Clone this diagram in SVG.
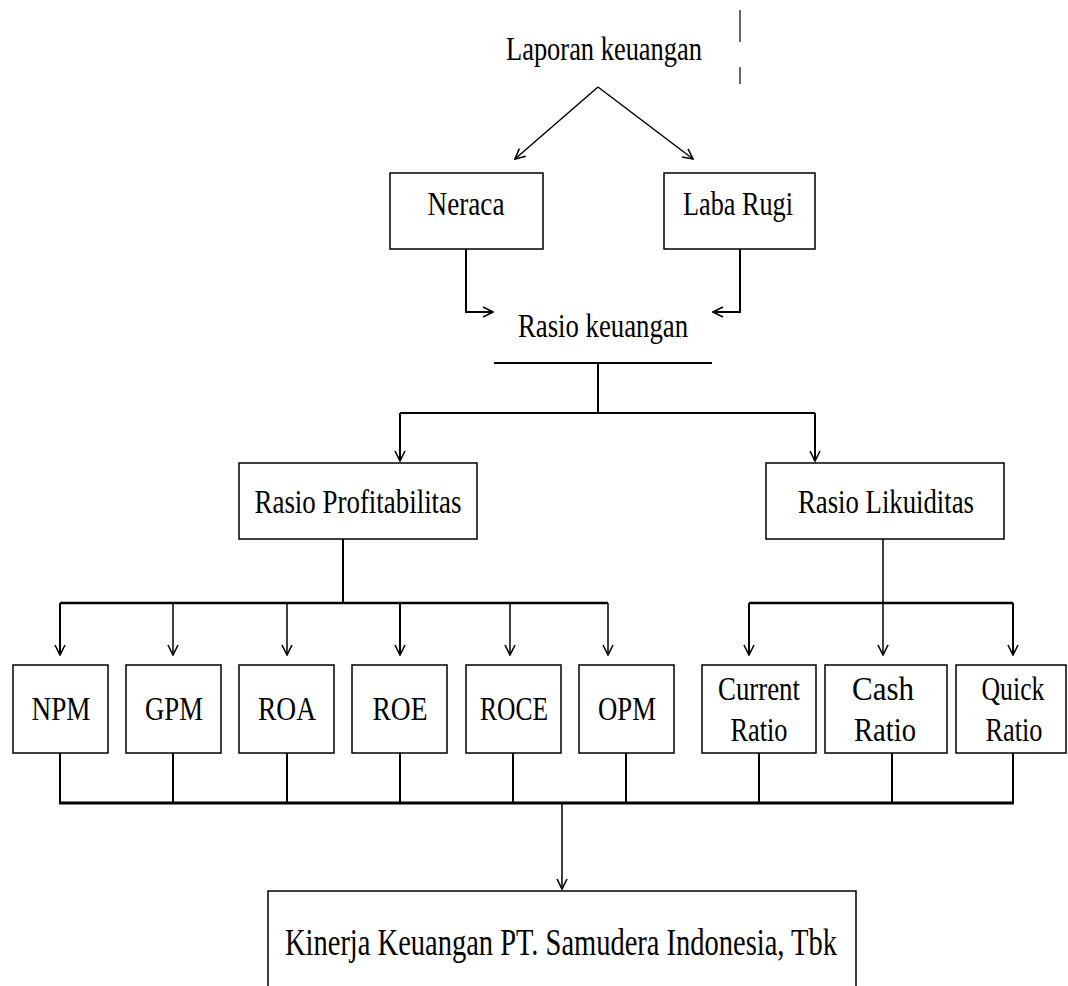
<svg xmlns="http://www.w3.org/2000/svg" width="1068" height="986" viewBox="0 0 1068 986">
<style>
.bg{fill:#fff}
.box{fill:#fff;stroke:#000;stroke-width:1.5}
.t{font-family:"Liberation Serif","Times New Roman",serif;font-size:34px;fill:#000;text-anchor:middle}
.c{fill:none;stroke:#000;stroke-width:2}
.ca{fill:none;stroke:#000;stroke-width:2;marker-end:url(#ah)}
.thin{fill:none;stroke:#000;stroke-width:1.2}
</style>
<defs>
<marker id="ah" viewBox="0 0 12 12" refX="11" refY="6" markerWidth="12" markerHeight="12" markerUnits="userSpaceOnUse" orient="auto">
<path d="M1,1 L11,6 L1,11" fill="none" stroke="#000" stroke-width="1.6"/>
</marker>
</defs>
<rect class="bg" x="0" y="0" width="1068" height="986"/>

<g id="connectors">
<path class="thin" d="M740,10 V42 M740,67 V84"/>
<line class="ca" x1="598" y1="87" x2="515" y2="159" style="stroke-width:1.5"/>
<line class="ca" x1="598" y1="87" x2="693" y2="159" style="stroke-width:1.5"/>
<path class="ca" d="M466,249 V312 H493"/>
<path class="ca" d="M740,249 V312 H713"/>
<line class="c" x1="494" y1="363" x2="712" y2="363"/>
<line class="c" x1="598" y1="363" x2="598" y2="413"/>
<line class="c" x1="400" y1="413" x2="815" y2="413"/>
<line class="ca" x1="400" y1="413" x2="400" y2="461"/>
<line class="ca" x1="815" y1="413" x2="815" y2="461"/>
<line class="c" x1="343" y1="539" x2="343" y2="603"/>
<line class="c" x1="60" y1="603" x2="608" y2="603" style="stroke-width:2.5"/>
<line class="ca" x1="60" y1="603" x2="60" y2="655"/>
<line class="ca" x1="173" y1="603" x2="173" y2="655" style="stroke-width:1.5"/>
<line class="ca" x1="287" y1="603" x2="287" y2="655" style="stroke-width:1.5"/>
<line class="ca" x1="400" y1="603" x2="400" y2="655"/>
<line class="ca" x1="510" y1="603" x2="510" y2="655" style="stroke-width:1.5"/>
<line class="ca" x1="608" y1="603" x2="608" y2="655" style="stroke-width:1.5"/>
<line class="ca" x1="883" y1="539" x2="883" y2="655" style="stroke-width:1.5"/>
<line class="c" x1="749" y1="603" x2="1013" y2="603" style="stroke-width:2.5"/>
<line class="ca" x1="749" y1="603" x2="749" y2="655"/>
<line class="ca" x1="1013" y1="603" x2="1013" y2="655"/>
<path class="c" d="M60,753 V803 M173,753 V803 M287,753 V803 M400,753 V803 M513,753 V803 M626,753 V803 M759,753 V803 M892,753 V803 M1013,753 V803"/>
<line class="c" x1="59" y1="803" x2="1014" y2="803" style="stroke-width:3"/>
<line class="ca" x1="562" y1="803" x2="562" y2="889" style="stroke-width:1.5"/>
</g>

<g id="laporan"><text class="t" x="604" y="60" textLength="196" lengthAdjust="spacingAndGlyphs">Laporan keuangan</text></g>
<g id="neraca"><rect class="box" x="390" y="173" width="153" height="76"/><text class="t" x="466" y="215" textLength="77" lengthAdjust="spacingAndGlyphs">Neraca</text></g>
<g id="labarugi"><rect class="box" x="664" y="173" width="151" height="76"/><text class="t" x="738" y="215" textLength="110" lengthAdjust="spacingAndGlyphs">Laba Rugi</text></g>
<g id="rasio"><text class="t" x="603" y="337" textLength="170" lengthAdjust="spacingAndGlyphs">Rasio keuangan</text></g>
<g id="profit"><rect class="box" x="239" y="463" width="238" height="76"/><text class="t" x="358" y="513" textLength="207" lengthAdjust="spacingAndGlyphs">Rasio Profitabilitas</text></g>
<g id="likuid"><rect class="box" x="766" y="463" width="238" height="76"/><text class="t" x="886" y="513" textLength="176" lengthAdjust="spacingAndGlyphs">Rasio Likuiditas</text></g>

<g id="npm"><rect class="box" x="13" y="665" width="95" height="88"/><text class="t" x="61" y="720" textLength="59" lengthAdjust="spacingAndGlyphs">NPM</text></g>
<g id="gpm"><rect class="box" x="126" y="665" width="95" height="88"/><text class="t" x="174" y="720" textLength="58" lengthAdjust="spacingAndGlyphs">GPM</text></g>
<g id="roa"><rect class="box" x="239" y="665" width="95" height="88"/><text class="t" x="287" y="720" textLength="58" lengthAdjust="spacingAndGlyphs">ROA</text></g>
<g id="roe"><rect class="box" x="352" y="665" width="95" height="88"/><text class="t" x="400" y="720" textLength="55" lengthAdjust="spacingAndGlyphs">ROE</text></g>
<g id="roce"><rect class="box" x="466" y="665" width="95" height="88"/><text class="t" x="514" y="720" textLength="68" lengthAdjust="spacingAndGlyphs">ROCE</text></g>
<g id="opm"><rect class="box" x="579" y="665" width="95" height="88"/><text class="t" x="627" y="720" textLength="58" lengthAdjust="spacingAndGlyphs">OPM</text></g>
<g id="current"><rect class="box" x="702" y="665" width="114" height="88"/><text class="t" x="759" y="700" textLength="82" lengthAdjust="spacingAndGlyphs">Current</text><text class="t" x="759" y="741" textLength="57" lengthAdjust="spacingAndGlyphs">Ratio</text></g>
<g id="cash"><rect class="box" x="825" y="665" width="122" height="88"/><text class="t" x="883" y="700" textLength="62" lengthAdjust="spacingAndGlyphs">Cash</text><text class="t" x="885" y="741" textLength="62" lengthAdjust="spacingAndGlyphs">Ratio</text></g>
<g id="quick"><rect class="box" x="956" y="665" width="110" height="88"/><text class="t" x="1013" y="700" textLength="63" lengthAdjust="spacingAndGlyphs">Quick</text><text class="t" x="1014" y="741" textLength="57" lengthAdjust="spacingAndGlyphs">Ratio</text></g>

<g id="kinerja"><rect class="box" x="268" y="891" width="588" height="110"/><text class="t" x="561" y="955" style="font-size:37px" textLength="552" lengthAdjust="spacingAndGlyphs">Kinerja Keuangan PT. Samudera Indonesia, Tbk</text></g>
</svg>
